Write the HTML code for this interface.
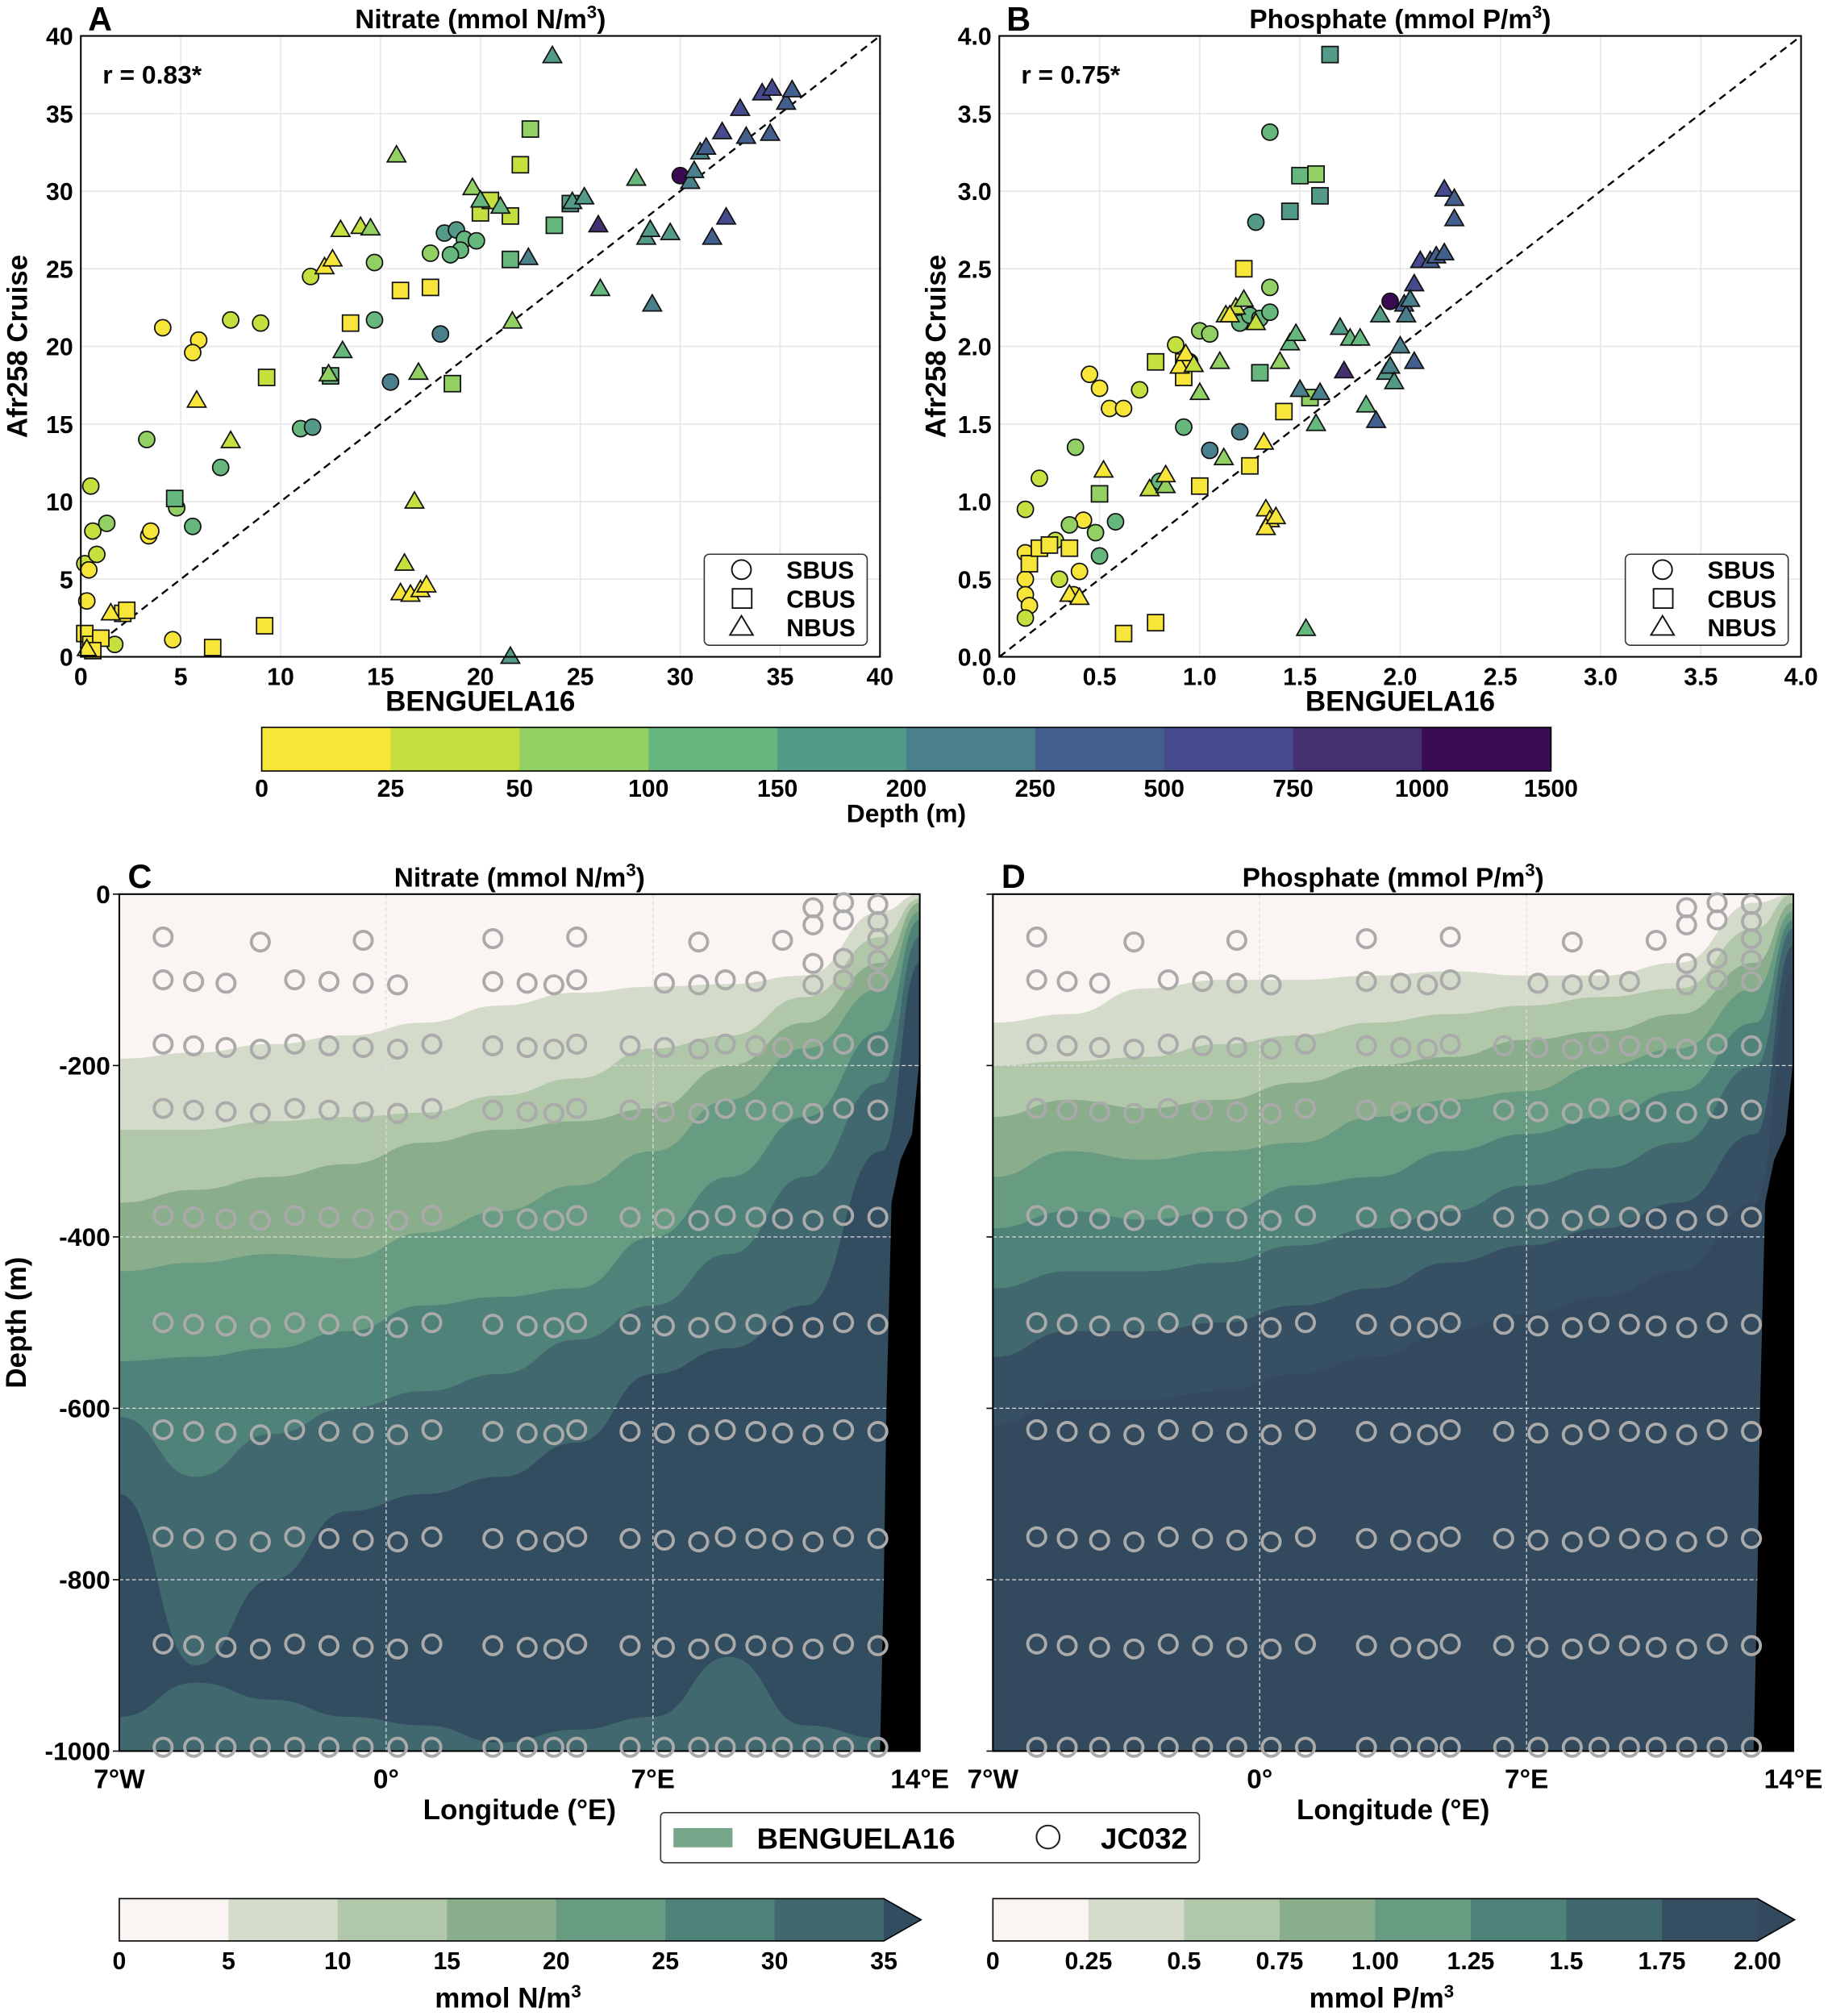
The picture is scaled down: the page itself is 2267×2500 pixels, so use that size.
<!DOCTYPE html>
<html><head><meta charset="utf-8"><style>
html,body{margin:0;padding:0;background:#fff;}
svg{display:block;font-family:"Liberation Sans",sans-serif;font-weight:bold;}
</style></head><body>
<svg id="fig" width="2267" height="2500" viewBox="0 0 1425 1571.5" preserveAspectRatio="none" xmlns="http://www.w3.org/2000/svg"></svg>
<script>
// ---------- DATA ----------
const depthBins = ['0','25','50','100','150','200','250','500','750','1000','1500'];
const viridisColors = ['#f7e53a','#c5df3e','#93d063','#66b77e','#549a88','#4a7f8c','#435f8d','#464a8f','#44306f','#3a0b53'];
// panel A: [benguela, afr258, depthBin]
const nitrateCircles = [[0.2,6,1],[0.3,3.6,0],[0.5,11,1],[0.6,8.1,1],[0.8,6.6,1],[0.4,5.6,0],[1.3,8.6,2],[1.7,0.8,1],[4.6,1.1,0],[3.3,14,2],[3.4,7.8,0],[3.5,8.1,0],[4.1,21.2,0],[5.9,20.4,0],[5.6,19.6,0],[7.5,21.7,1],[9,21.5,1],[4.8,9.6,2],[5.6,8.4,3],[7,12.2,3],[11,14.7,3],[11.6,14.8,4],[11.5,24.5,1],[14.7,25.4,2],[14.7,21.7,3],[15.5,17.7,5],[18,20.8,5],[17.5,26,2],[18.2,27.3,4],[18.8,27.5,4],[19.2,26.9,3],[19.8,26.8,3],[19,26.2,3],[18.5,25.9,3],[30,31,9]];
const nitrateSquares = [[0.2,1.5,0],[0.5,0.8,0],[1,1.2,0],[0.6,0.4,0],[2.1,2.8,0],[2.3,3,0],[4.7,10.2,3],[6.6,0.6,0],[9.2,2,0],[9.3,18,1],[12.5,18.1,3],[13.5,21.5,0],[16,23.6,0],[17.5,23.8,0],[18.6,17.6,2],[20,28.6,1],[20.5,29.4,1],[21.5,28.4,1],[22.5,34,2],[22,31.7,1],[21.5,25.6,3],[23.7,27.8,3],[24.5,29.2,4]];
const nitrateTriangles = [[0.3,0.5,0],[1.5,2.8,0],[5.8,16.5,0],[7.5,13.9,1],[12.2,25.1,0],[12.6,25.6,0],[12.4,18.2,2],[13.1,19.7,3],[13,27.5,1],[14,27.7,1],[14.5,27.6,2],[15.8,32.3,2],[16.7,10,1],[16.2,6,1],[16,4.1,0],[16.5,4.0,0],[17,4.3,0],[17.3,4.6,0],[16.9,18.3,2],[19.6,30.2,2],[20,29.4,3],[21,29,3],[21.6,21.6,2],[22.4,25.7,5],[21.5,0,4],[23.6,38.7,4],[24.6,29.3,4],[25.2,29.6,4],[25.9,27.8,8],[26,23.7,3],[27.8,30.8,3],[28.3,27,4],[28.5,27.5,4],[28.6,22.7,5],[29.5,27.3,4],[30.5,30.6,5],[30.7,31.3,5],[31,32.5,5],[31.3,32.8,6],[31.6,27,6],[32.1,33.8,7],[32.3,28.3,7],[33,35.3,7],[33.3,33.5,6],[34.1,36.3,7],[34.6,36.6,7],[34.5,33.7,6],[35.3,35.7,6],[35.6,36.5,6]];
// panel B
const phosCircles = [[0.13,0.67,0],[0.15,0.6,0],[0.13,0.5,0],[0.13,0.4,0],[0.15,0.33,0],[0.13,0.25,1],[0.13,0.95,1],[0.2,1.15,1],[0.28,0.75,1],[0.3,0.5,1],[0.37,0.4,0],[0.4,0.55,0],[0.42,0.88,0],[0.45,1.82,0],[0.5,1.73,0],[0.55,1.6,0],[0.62,1.6,0],[0.38,1.35,2],[0.5,0.65,3],[0.48,0.8,2],[0.58,0.87,3],[0.35,0.85,2],[0.88,2.01,1],[0.95,1.9,1],[0.92,1.48,3],[0.8,1.13,3],[0.7,1.72,1],[1.0,2.1,2],[1.05,2.08,2],[1.05,1.33,5],[1.2,1.45,5],[1.2,2.15,3],[1.25,2.2,3],[1.3,2.18,3],[1.35,2.22,3],[1.28,2.8,4],[1.35,2.38,2],[1.35,3.38,3],[1.95,2.29,9]];
const phosSquares = [[0.15,0.6,0],[0.2,0.7,0],[0.25,0.72,0],[0.35,0.7,0],[0.5,1.05,2],[0.62,0.15,0],[0.78,0.22,0],[0.78,1.9,1],[0.92,1.9,0],[0.92,1.8,0],[1.0,1.1,0],[1.22,2.5,0],[1.25,1.23,0],[1.3,1.83,3],[1.42,1.58,0],[1.55,1.67,2],[1.45,2.87,4],[1.5,3.1,3],[1.58,3.11,2],[1.6,2.97,4],[1.65,3.88,4]];
const phosTriangles = [[0.35,0.4,0],[0.4,0.38,0],[0.52,1.2,0],[0.75,1.08,1],[0.83,1.1,2],[0.83,1.17,0],[0.9,1.87,0],[0.93,1.95,0],[0.97,1.88,1],[1.0,1.7,2],[1.1,1.9,2],[1.13,2.2,1],[1.18,2.25,1],[1.15,2.2,0],[1.22,2.3,2],[1.12,1.28,2],[1.32,1.38,0],[1.28,2.15,1],[1.33,0.95,0],[1.35,0.88,0],[1.33,0.83,0],[1.38,0.9,0],[1.4,1.9,2],[1.45,2.02,3],[1.48,2.08,3],[1.5,1.72,5],[1.58,1.5,3],[1.53,0.18,3],[1.6,1.7,5],[1.7,2.12,4],[1.72,1.84,8],[1.75,2.05,3],[1.8,2.05,3],[1.83,1.62,3],[1.88,1.52,6],[1.9,2.2,4],[1.93,1.83,4],[1.95,1.87,5],[1.97,1.77,4],[2.0,2.0,5],[2.02,2.27,6],[2.03,2.2,5],[2.07,2.4,7],[2.05,2.3,5],[2.07,1.9,6],[2.1,2.55,7],[2.15,2.55,6],[2.18,2.58,6],[2.22,3.01,7],[2.22,2.6,6],[2.27,2.95,6],[2.27,2.82,6]];
// sections
const sectionLons = [-7,-5,-3,-1,1,3,5,7,9,11,13,14];
const nitrateColors = ['#faf5f2','#d4dbca','#b1c7a9','#8aae8c','#689c82','#4f8279','#40686e','#334d60'];
const phosColors = ['#faf5f2','#d4dbca','#b1c7a9','#8aae8c','#689c82','#4f8279','#40686e','#374f62','#334a5e'];
const nitrateLevels = ['0','5','10','15','20','25','30','35'];
const phosLevels = ['0','0.25','0.5','0.75','1.00','1.25','1.5','1.75','2.00'];
const nitrateBounds = [
 [-192,-185,-175,-165,-150,-130,-115,-108,-105,-95,-20,0],
 [-275,-275,-265,-260,-255,-235,-215,-180,-165,-120,-50,-5],
 [-360,-345,-330,-315,-290,-275,-265,-250,-200,-150,-80,-10],
 [-440,-430,-420,-425,-395,-370,-340,-300,-240,-180,-110,-20],
 [-545,-540,-530,-510,-480,-470,-460,-400,-330,-260,-160,-30],
 [-610,-680,-630,-600,-580,-560,-520,-480,-420,-330,-220,-50],
 [-700,-900,-800,-720,-700,-680,-640,-560,-530,-480,-300,-80]];
const nitrateDeep = [-960,-920,-940,-960,-970,-990,-975,-960,-890,-970,-985,-1000];
const phosBounds = [
 [-150,-140,-110,-100,-100,-95,-90,-95,-95,-80,-10,0],
 [-200,-195,-190,-175,-165,-150,-140,-130,-120,-110,-40,0],
 [-260,-240,-250,-240,-220,-200,-190,-170,-160,-140,-80,-10],
 [-330,-300,-310,-300,-290,-260,-240,-230,-200,-180,-110,-20],
 [-390,-370,-380,-370,-340,-330,-300,-280,-260,-230,-150,-30],
 [-460,-440,-440,-430,-410,-390,-370,-340,-320,-290,-200,-40],
 [-540,-510,-510,-500,-480,-460,-430,-410,-390,-360,-280,-60],
 [-620,-590,-590,-580,-560,-540,-510,-490,-470,-440,-360,-90]];
const stationLons = [-5.85,-5.05,-4.2,-3.3,-2.4,-1.5,-0.6,0.3,1.2,2.8,3.7,4.4,5.0,6.4,7.3,8.2,8.9,9.7,10.4,11.2,12.0,12.9];
const deepDepths = [175,250,375,500,625,750,875,1000];
const shallowDepths = [100];

// ---------- HELPERS ----------
const NS='http://www.w3.org/2000/svg';
const svg=document.getElementById('fig');
function mk(tag,attrs,parent){const e=document.createElementNS(NS,tag);for(const k in attrs)e.setAttribute(k,attrs[k]);(parent||svg).appendChild(e);return e;}
function txt(s,x,y,size,anchor,parent,extra){const t=mk('text',Object.assign({x:x,y:y,'font-size':size,'text-anchor':anchor||'middle','fill':'#000'},extra||{}),parent);t.textContent=s;return t;}

// ---------- SCATTER PANELS ----------
function scatterPanel(cfg){
  const g=mk('g',{});
  
  
  const X=v=>cfg.x0+(v-cfg.min)/(cfg.max-cfg.min)*(cfg.x1-cfg.x0);
  const Y=v=>cfg.y1-(v-cfg.min)/(cfg.max-cfg.min)*(cfg.y1-cfg.y0);
  cfg.ticks.forEach(t=>{
    const v=parseFloat(t);
    mk('line',{x1:X(v),x2:X(v),y1:cfg.y0,y2:cfg.y1,stroke:'#e6e6e6','stroke-width':1},g);
    mk('line',{x1:cfg.x0,x2:cfg.x1,y1:Y(v),y2:Y(v),stroke:'#e6e6e6','stroke-width':1},g);
    const xl=txt(t,X(v),cfg.y1+22,19,'middle',g);
    
    
    const yl=txt(t,cfg.x0-6,Y(v)+7,19,'end',g);
    
    
  });
  const dl=mk('line',{x1:X(cfg.min),y1:Y(cfg.min),x2:X(cfg.max),y2:Y(cfg.max),stroke:'#000','stroke-width':1.5,'stroke-dasharray':'6,4'},g);
  
  
  const r=6.3;
  function pt(shape,d){
    const cx=X(d[0]),cy=Y(d[1]),col=viridisColors[d[2]];let e;
    if(shape==='c')e=mk('circle',{cx:cx,cy:cy,r:r,fill:col,stroke:'#111','stroke-width':1.1},g);
    else if(shape==='s')e=mk('rect',{x:cx-r,y:cy-r,width:2*r,height:2*r,fill:col,stroke:'#111','stroke-width':1.1},g);
    else e=mk('polygon',{points:`${cx},${cy-r*1.2} ${cx-r*1.15},${cy+r*0.8} ${cx+r*1.15},${cy+r*0.8}`,fill:col,stroke:'#111','stroke-width':1.1},g);
    
    
  }
  cfg.circ.forEach(d=>pt('c',d));cfg.sq.forEach(d=>pt('s',d));cfg.tri.forEach(d=>pt('t',d));
  mk('rect',{x:cfg.x0,y:cfg.y0,width:cfg.x1-cfg.x0,height:cfg.y1-cfg.y0,fill:'none',stroke:'#000','stroke-width':1.3},g);
  const ti=txt('',(cfg.x0+cfg.x1)/2,22,21,'middle',g);ti.innerHTML=cfg.titleHTML;
  
  
  const lt=txt(cfg.letter,cfg.x0+15,24,26,'middle',g);
  
  
  const rr=txt(cfg.r,cfg.x0+17,65,20,'start',g);
  
  
  const xt=txt('BENGUELA16',(cfg.x0+cfg.x1)/2,554,22,'middle',g);
  
  
  const yt=txt('Afr258 Cruise',0,0,22,'middle',g,{transform:`translate(${cfg.x0-42},${(cfg.y0+cfg.y1)/2}) rotate(-90)`});
  
  
  const lg=mk('g',{},g);
  
  
  const lx=cfg.x1-137;
  mk('rect',{x:lx,y:432,width:127,height:71,rx:4,fill:'#fff',stroke:'#333','stroke-width':1},lg);
  mk('circle',{cx:lx+29,cy:444,r:7.5,fill:'#fff',stroke:'#111','stroke-width':1.2},lg);
  mk('rect',{x:lx+22,y:459,width:15,height:15,fill:'#fff',stroke:'#111','stroke-width':1.2},lg);
  mk('polygon',{points:`${lx+29},480 ${lx+20},495 ${lx+38},495`,fill:'#fff',stroke:'#111','stroke-width':1.2},lg);
  ['SBUS','CBUS','NBUS'].forEach((s,i)=>{const t=txt(s,lx+64,451+i*22.5,19,'start',lg);
    
    });
}
scatterPanel({name:'panel-a-nitrate-scatter',x0:63,x1:686,y0:28,y1:512,min:0,max:40,ticks:['0','5','10','15','20','25','30','35','40'],titleHTML:'Nitrate (mmol N/m<tspan font-size="14" dy="-8">3</tspan><tspan dy="8">)</tspan>',letter:'A',r:'r = 0.83*',circ:nitrateCircles,sq:nitrateSquares,tri:nitrateTriangles});
scatterPanel({name:'panel-b-phosphate-scatter',x0:779,x1:1404,y0:28,y1:512,min:0,max:4,ticks:['0.0','0.5','1.0','1.5','2.0','2.5','3.0','3.5','4.0'],titleHTML:'Phosphate (mmol P/m<tspan font-size="14" dy="-8">3</tspan><tspan dy="8">)</tspan>',letter:'B',r:'r = 0.75*',circ:phosCircles,sq:phosSquares,tri:phosTriangles});

// depth colorbar
(function(){
  const g=mk('g',{});
  
  
  const x0=204,w=100.5;
  viridisColors.forEach((c,i)=>{const r=mk('rect',{x:x0+i*w,y:567,width:w+0.5,height:34,fill:c},g);
    
    });
  mk('rect',{x:x0,y:567,width:w*10,height:34,fill:'none',stroke:'#000','stroke-width':1},g);
  depthBins.forEach((t,i)=>{const l=txt(t,x0+i*w,621,19,'middle',g);
    
    });
  const tt=txt('Depth (m)',x0+5*w,641,20,'middle',g);
  
  
})();

// ---------- SECTION PANELS ----------
function section(cfg){
  const g=mk('g',{});
  
  
  const cols=cfg.colors;
  const X=l=>cfg.x0+(l+7)/21*(cfg.x1-cfg.x0);
  const Y=d=>cfg.y0+(-d)/1000*(cfg.y1-cfg.y0);
  const cid='clip'+cfg.letter;
  const cp=mk('clipPath',{id:cid},g);mk('rect',{x:cfg.x0,y:cfg.y0,width:cfg.x1-cfg.x0,height:cfg.y1-cfg.y0},cp);
  const cg=mk('g',{'clip-path':`url(#${cid})`},g);
  mk('rect',{x:cfg.x0,y:cfg.y0,width:cfg.x1-cfg.x0,height:cfg.y1-cfg.y0,fill:cols[0]},cg);
  function smoothPath(arr){
    const pts=sectionLons.map((l,i)=>[X(l),Y(arr[i])]);
    let d=`M${cfg.x0-5},${pts[0][1]} L${pts[0][0]},${pts[0][1]}`;
    for(let i=0;i<pts.length-1;i++){const p=pts[i],q=pts[i+1],mx=(p[0]+q[0])/2;d+=` C${mx},${p[1]} ${mx},${q[1]} ${q[0]},${q[1]}`;}
    d+=` L${cfg.x1+5},${pts[pts.length-1][1]}`;return d;
  }
  cfg.bounds.forEach((b,i)=>{
    const p=mk('path',{d:smoothPath(b)+` L${cfg.x1+5},${cfg.y1+5} L${cfg.x0-5},${cfg.y1+5} Z`,fill:cols[i+1]},cg);
    
    
  });
  if(cfg.deep){const p=mk('path',{d:smoothPath(cfg.deep)+` L${cfg.x1+5},${cfg.y1+5} L${cfg.x0-5},${cfg.y1+5} Z`,fill:cols[6]},cg);
    
    }
  [0,7].forEach(l=>mk('line',{x1:X(l),x2:X(l),y1:cfg.y0,y2:cfg.y1,stroke:'#ddd','stroke-width':0.8,'stroke-dasharray':'3,2'},cg));
  [200,400,600,800,1000].forEach(d=>mk('line',{x1:cfg.x0,x2:cfg.x1,y1:Y(-d),y2:Y(-d),stroke:'#ddd','stroke-width':0.8,'stroke-dasharray':'3,2'},cg));
  const sf=mk('polygon',{points:`${cfg.x1},${Y(-190)} ${cfg.x1-6},${Y(-280)} ${cfg.x1-15},${Y(-310)} ${cfg.x1-22},${Y(-360)} ${cfg.x1-26},${Y(-600)} ${cfg.x1-28},${Y(-800)} ${cfg.x1-31},${Y(-1000)} ${cfg.x1},${Y(-1000)}`,fill:'#000'},cg);
  
  
  mk('rect',{x:cfg.x0,y:cfg.y0,width:cfg.x1-cfg.x0,height:cfg.y1-cfg.y0,fill:'none',stroke:'#000','stroke-width':1.3},g);
  stationLons.forEach((l,i)=>{
    const ds=deepDepths.concat(i%5===3?[]:shallowDepths).concat(i%3===0?[50]:[]).concat(i>18?[10,30,75]:[]);
    ds.forEach(d=>{const c=mk('circle',{cx:X(l),cy:Math.min(Y(-d)+(i%4)*1.3,cfg.y1-3),r:7,fill:'none',stroke:'#aaa','stroke-width':2.4},g);
      
      });
  });
  [['7°W',-7],['0°',0],['7°E',7],['14°E',14]].forEach(([s,l])=>{const t=txt(s,X(l),cfg.y1+29,21,'middle',g);
    
    });
  [0,-200,-400,-600,-800,-1000].forEach(d=>{
    mk('line',{x1:cfg.x0-5,x2:cfg.x0,y1:Y(d),y2:Y(d),stroke:'#000'},g);
    if(cfg.yLabels){const t=txt(String(d),cfg.x0-7,Y(d)+7,20,'end',g);
      
      }
  });
  const xt=txt('Longitude (°E)',(cfg.x0+cfg.x1)/2,cfg.y1+53,22,'middle',g);
  
  
  const lt=txt(cfg.letter,cfg.x0+16,692,26,'middle',g);
  
  
  const ti=txt('',(cfg.x0+cfg.x1)/2,691,21,'middle',g);ti.innerHTML=cfg.titleHTML;
  
  
  const cb=mk('g',{},g);
  
  
  const n=cols.length-1,w=(cfg.x1-28-cfg.x0)/n;
  for(let i=0;i<n;i++){const r=mk('rect',{x:cfg.x0+i*w,y:1480,width:w+0.5,height:33,fill:cols[i]},cb);
    
    }
  mk('polygon',{points:`${cfg.x0+n*w},1480 ${cfg.x1+1},1496.5 ${cfg.x0+n*w},1513`,fill:cols[n]},cb);
  mk('polygon',{points:`${cfg.x0},1480 ${cfg.x0+n*w},1480 ${cfg.x1+1},1496.5 ${cfg.x0+n*w},1513 ${cfg.x0},1513`,fill:'none',stroke:'#000','stroke-width':1},cb);
  cfg.levels.forEach((s,i)=>{if(i>n)return;const t=txt(s,cfg.x0+i*w,1535,19,'middle',cb);
    
    });
  const ct=txt('',cfg.x0+n*w/2+5,1565,22,'middle',cb);ct.innerHTML=cfg.unitHTML;
  
  
}
section({name:'panel-c-nitrate-section',letter:'C',x0:93,x1:717,y0:697,y1:1365,colors:nitrateColors,bounds:nitrateBounds,deep:nitrateDeep,yLabels:true,levels:nitrateLevels,
  titleHTML:'Nitrate (mmol N/m<tspan font-size="14" dy="-8">3</tspan><tspan dy="8">)</tspan>',unitHTML:'mmol N/m<tspan font-size="14" dy="-8">3</tspan>'});
section({name:'panel-d-phosphate-section',letter:'D',x0:774,x1:1398,y0:697,y1:1365,colors:phosColors,bounds:phosBounds,deep:null,yLabels:false,levels:phosLevels,
  titleHTML:'Phosphate (mmol P/m<tspan font-size="14" dy="-8">3</tspan><tspan dy="8">)</tspan>',unitHTML:'mmol P/m<tspan font-size="14" dy="-8">3</tspan>'});
const dy=txt('Depth (m)',0,0,22,'middle',svg,{transform:'translate(20,1031) rotate(-90)'});



// section legend
(function(){
  const g=mk('g',{});
  
  
  mk('rect',{x:515,y:1413,width:420,height:39,rx:3,fill:'#fff',stroke:'#333','stroke-width':1},g);
  mk('rect',{x:525,y:1425,width:46,height:15,fill:'#76a78a'},g);
  const a=txt('BENGUELA16',590,1441,23,'start',g);
  
  
  mk('circle',{cx:817,cy:1432,r:9,fill:'#fff',stroke:'#222','stroke-width':1.3},g);
  const b=txt('JC032',858,1441,23,'start',g);
  
  
})();
</script>
</body></html>
